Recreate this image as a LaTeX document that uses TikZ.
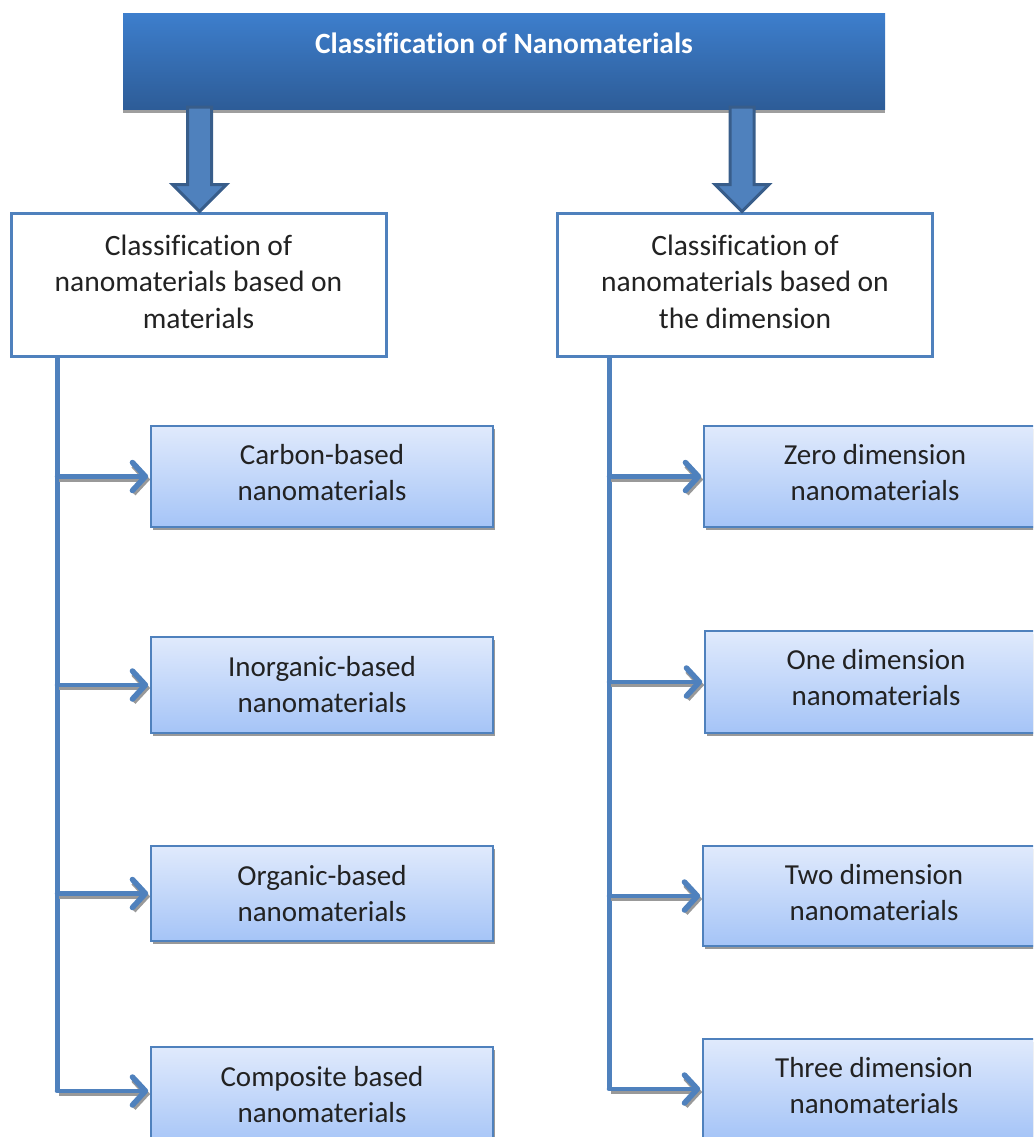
\documentclass[tikz,border=0pt]{standalone}
\usepackage{fontspec}
\setmainfont{Carlito}[Ligatures=NoCommon]
\usetikzlibrary{arrows.meta,shadows,calc}
\definecolor{bord}{HTML}{4F81BD}
\definecolor{bdark}{HTML}{385D8A}
\definecolor{bantop}{HTML}{3D7ECC}
\definecolor{banbot}{HTML}{2D5C97}
\definecolor{smtop}{HTML}{E0EAFC}
\definecolor{smbot}{HTML}{A5C4F7}
\definecolor{txt}{HTML}{222222}
\tikzset{
  banner/.style={rectangle, inner sep=0, minimum width=762pt, minimum height=96pt,
    top color=bantop, bottom color=banbot, draw=none,
    drop shadow={shadow xshift=0pt, shadow yshift=-3pt, opacity=1, fill=black!38}},
  titletext/.style={text=white, font=\bfseries\fontsize{29.4}{34}\selectfont, inner sep=0},
  midbox/.style={rectangle, draw=bord, line width=3pt, fill=white, inner sep=0,
    minimum width=375pt, minimum height=143pt},
  midtext/.style={align=center, text=txt, inner sep=0, yshift=3pt,
    font=\fontsize{29.5}{36.5}\selectfont},
  smallbox/.style={rectangle, draw=bord, line width=1.6pt, inner sep=0,
    top color=smtop, bottom color=smbot, minimum width=342pt,
    drop shadow={shadow xshift=2pt, shadow yshift=-3pt, opacity=1, fill=black!40}},
  smalltext/.style={align=center, text=txt, inner sep=0, yshift=3.5pt,
    font=\fontsize{29}{36}\selectfont},
  spine/.style={draw=bord, line width=5pt},
  harrow/.style={draw=bord, line width=4.5pt, line cap=round,
    -{Straight Barb[length=13pt, width=28pt, line width=5.5pt, round]}},
  hshadow/.style={draw=black!40, line width=4.5pt,
    -{Straight Barb[length=13pt, width=28pt, line width=5.5pt]}},
  bigarrow/.style={fill=bord, draw=bdark, line width=3pt, line join=miter},
}
\begin{document}
\begin{tikzpicture}[x=1pt, y=-1pt]
\useasboundingbox (0,0) rectangle (1033,1137);
\clip (0,0) rectangle (1033,1137);

% banner
\node[banner] (banner) at (504,62) {};
\node[titletext] (title) at (504,43) {Classification of Nanomaterials};

% mid boxes
\node[midbox, label={[midtext]center:{Classification of\\nanomaterials based on\\materials}}] (lbox) at (198.5,284.5) {};
\node[midbox, label={[midtext]center:{Classification of\\nanomaterials based on\\the dimension}}] (rbox) at (745,284.5) {};

% big arrows
\coordinate (la1) at (banner.south -| 199.5,0);
\coordinate (la2) at (lbox.north -| 199.5,0);
\coordinate (ra1) at (banner.south -| 742,0);
\coordinate (ra2) at (rbox.north -| 742,0);
\foreach \s/\e in {la1/la2, ra1/ra2}{
  \path[bigarrow] ($(\s)+(-12,-3)$) -- ($(\e)+(-12,-27)$) -- ($(\e)+(-27,-27)$) -- (\e)
     -- ($(\e)+(27,-27)$) -- ($(\e)+(12,-27)$) -- ($(\s)+(12,-3)$) -- cycle;
}

% small boxes left
\node[smallbox, minimum height=101pt, label={[smalltext]center:{Carbon-based\\nanomaterials}}] (c1) at (322,476.5) {};
\node[smallbox, minimum height=96pt, label={[smalltext, yshift=-3.5pt]center:{Inorganic-based\\nanomaterials}}] (c2) at (322,685) {};
\node[smallbox, minimum height=95pt, label={[smalltext, yshift=-3.5pt]center:{Organic-based\\nanomaterials}}] (c3) at (322,893.5) {};
\node[smallbox, minimum height=100pt, label={[smalltext, yshift=-1.5pt]center:{Composite based\\nanomaterials}}] (c4) at (322,1097) {};

% small boxes right
\node[smallbox, minimum height=101pt, label={[smalltext]center:{Zero dimension\\nanomaterials}}] (d1) at (875,476.5) {};
\node[smallbox, minimum height=102pt, label={[smalltext, yshift=1pt]center:{One dimension\\nanomaterials}}] (d2) at (876,682) {};
\node[smallbox, minimum height=100pt, label={[smalltext]center:{Two dimension\\nanomaterials}}] (d3) at (874,896) {};
\node[smallbox, minimum height=100pt, label={[smalltext]center:{Three dimension\\nanomaterials}}] (d4) at (874,1089) {};

% spines
\coordinate (lx) at (57,0);
\coordinate (rx) at (609,0);
\draw[spine] (lbox.south -| lx) -- ($(lx |- c4.west)+(0,-6)$);
\draw[spine] (rbox.south -| rx) -- (rx |- d4.west);

% horizontal arrows
\foreach \b/\dy in {c1/0, c2/0, c3/0, c4/-6}{
  \draw[hshadow] ($(lx |- \b.west)+(2,\dy+3)$) -- ($(\b.west)+(0,\dy+3)$);
  \draw[harrow] ($(lx |- \b.west)+(0,\dy)$) -- ($(\b.west)+(-2,\dy)$);
}
\foreach \b/\dy in {d1/0, d2/0, d3/0, d4/0}{
  \draw[hshadow] ($(rx |- \b.west)+(2,\dy+3)$) -- ($(\b.west)+(0,\dy+3)$);
  \draw[harrow] ($(rx |- \b.west)+(0,\dy)$) -- ($(\b.west)+(-2,\dy)$);
}
\end{tikzpicture}
\end{document}
